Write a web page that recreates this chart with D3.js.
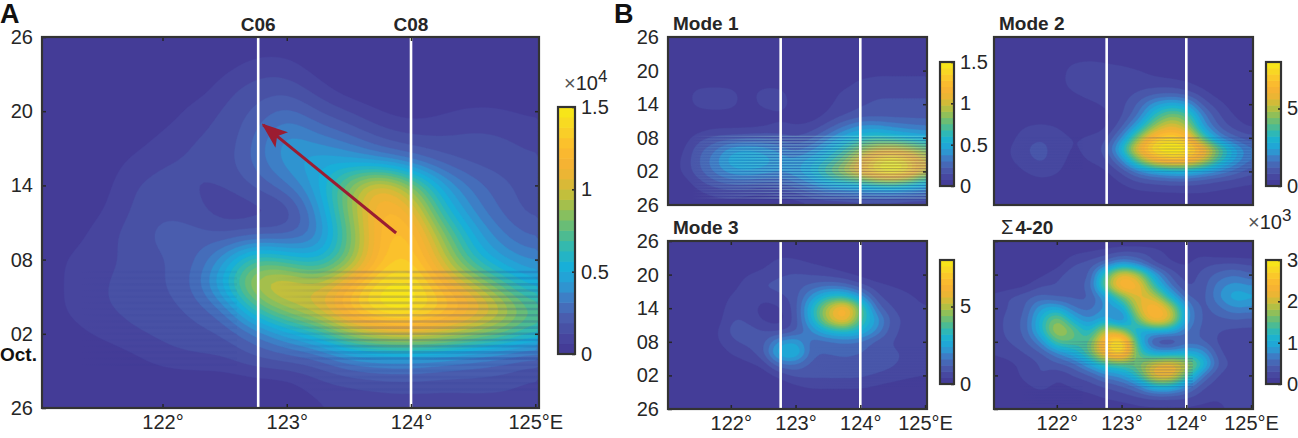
<!DOCTYPE html>
<html>
<head>
<meta charset="utf-8">
<style>
  body { margin: 0; background: #fff; }
  svg text { font-family: "Liberation Sans", Arial, sans-serif; fill: #262626; }
</style>
<script src="https://cdn.jsdelivr.net/npm/d3@7"></script>
</head>
<body>
<svg id="chart" width="1298" height="438"></svg>
<script>
// grid columns (deg E) and rows (days since 26 Sep, top row first)
var lons = [121,121.25,121.5,121.75,122,122.25,122.5,122.75,123,123.25,123.5,123.75,124,124.25,124.5,124.75,125];
var days = [30,28,26,24,22,20,18,16,14,12,10,8,6,4,2,0];

var xTicks = [122,123,124,125];
var xTickLabels = ["122°","123°","124°","125°E"];
var yTicks = [30,24,18,12,6,0];
var yTickLabels = ["26","20","14","08","02","26"];

var stationNames = ["C06","C08"];
var stationLons = [122.77,124];
var arrowLons = [123.88,122.81];
var arrowDays = [14.15,22.9];

// half-day oscillation seen in the lower part of the maps
var rippleDays = [1,1.5,2,2.5,3,3.5,4,4.5,5,5.5,6,6.5,7,7.5,8,8.5,9,9.5,10,10.5,11,11.5,12];

var gridA = [
  [0,0,0,0,0,0,0,0,0,0,0,0,0,0,0,0,0],
  [0,0,0,0,0,0,.02,.08,.08,.01,0,0,0,0,0,0,0],
  [0,0,0,0,0,0,.1,.15,.16,.08,0,0,0,0,0,0,0],
  [0,0,0,0,0,.1,.13,.2,.28,.18,.12,.05,.02,.05,.08,.07,.04],
  [0,0,0,0,.08,.13,.13,.26,.42,.32,.25,.16,.12,.12,.14,.13,.1],
  [0,0,0,.08,.13,.13,.15,.28,.42,.5,.45,.35,.28,.2,.16,.15,.13],
  [0,0,.02,.13,.14,.12,.12,.2,.3,.48,.85,1.15,.85,.45,.28,.2,.15],
  [0,0,.05,.13,.18,.15,.06,.08,.1,.38,.85,1.25,1.15,.6,.35,.22,.15],
  [0,.02,.1,.15,.22,.22,.18,.2,.2,.3,.75,1.25,1.3,.85,.48,.3,.22],
  [0,.08,.1,.14,.18,.22,.42,.75,.62,.5,.78,1.25,1.35,1,.6,.42,.35],
  [0,.08,.12,.15,.18,.25,.55,1,1.1,.95,1.2,1.45,1.5,1.2,.98,.7,.5],
  [0,.08,.12,.14,.16,.2,.3,.68,.9,1.05,1.3,1.52,1.52,1.35,1.18,.98,.72],
  [0,.03,.08,.12,.14,.16,.18,.3,.45,.6,.88,1,1.05,1,.88,.78,.62],
  [0,0,0,.04,.1,.12,.12,.18,.2,.22,.35,.4,.4,.35,.3,.25,.2],
  [0,0,0,0,0,0,0,.02,.02,.1,.12,.14,.15,.14,.15,.15,.1],
  [0,0,0,0,0,0,0,0,0,.05,.07,.08,.08,.08,.08,.08,.07]
];
var gridM1 = [
  [0,0,0,0,0,0,0,0,0,0,0,0,0,0,0,0,0],
  [0,0,0,0,0,0,0,0,0,0,0,0,0,0,0,0,0],
  [0,0,0,0,0,0,0,0,0,0,0,0,0,0,0,0,0],
  [0,0,0,0,0,0,0,0,0,0,0,0,0,.03,.03,.03,.03],
  [0,0,0,0,0,0,0,0,0,0,0,.03,.1,.12,.12,.12,.12],
  [0,0,.13,.15,.13,0,.14,.13,0,0,.03,.1,.12,.14,.14,.14,.14],
  [0,0,.12,.15,.13,0,.12,.13,.03,0,.06,.11,.14,.16,.16,.16,.16],
  [0,0,0,0,0,0,0,.06,.02,.03,.09,.14,.18,.19,.19,.19,.19],
  [0,0,.02,.05,.05,.05,.07,.1,.08,.1,.18,.3,.4,.4,.35,.32,.3],
  [0,.02,.12,.17,.18,.2,.2,.18,.15,.2,.35,.5,.6,.65,.6,.55,.5],
  [0,.05,.2,.28,.42,.45,.42,.35,.25,.35,.5,.65,.85,1,1.05,.95,.8],
  [0,.08,.22,.35,.5,.55,.5,.42,.4,.5,.62,.8,1.1,1.4,1.5,1.35,1],
  [0,.08,.2,.32,.42,.45,.42,.38,.42,.55,.75,.95,1.2,1.45,1.55,1.4,1],
  [0,.02,.12,.2,.25,.25,.22,.22,.3,.4,.55,.6,.65,.75,.8,.7,.55],
  [0,0,.05,.08,.1,.08,.05,.08,.12,.2,.25,.27,.3,.3,.3,.28,.25],
  [0,.03,.04,.05,.04,.03,.02,.02,.03,.06,.08,.08,.1,.1,.1,.08,.08]
];
var gridM2 = [
  [0,0,0,0,0,0,0,0,0,0,0,0,0,0,0,0,0],
  [0,0,0,0,0,0,0,0,0,0,0,0,0,0,0,0,0],
  [0,0,0,0,0,.25,.35,.3,.15,0,0,0,0,0,0,0,0],
  [0,0,0,0,0,.7,.7,.6,.6,.45,.25,.05,0,0,0,0,0],
  [0,0,0,0,0,.8,.8,.65,.65,.6,.55,.55,.4,.15,0,0,0],
  [0,0,0,0,0,.35,.65,.65,.6,.8,1,1.05,.9,.55,.15,0,0],
  [0,0,0,0,0,0,.25,.5,.65,1.2,2.2,2.7,2.4,1,.55,.15,0],
  [0,0,0,0,0,0,0,.25,.7,1.5,3.3,4.4,4,1.8,.8,.35,.1],
  [0,0,.4,.55,.4,0,.1,.3,1,2.5,4.6,5.8,5,2.3,1.1,.6,.3],
  [0,.15,.7,.8,.7,.35,.5,.6,1.8,4.4,6.8,7.4,6.8,3.8,1.9,1.2,.9],
  [0,.35,.8,.9,.7,.3,.55,.85,3,6.2,7.9,8.2,8,6.6,4.2,2.6,1.6],
  [0,.3,.7,.9,.65,.2,.45,.65,1.8,4.2,6.2,7,6.8,5.6,3.6,2.4,1.5],
  [0,.05,.4,.65,.5,.05,.1,.3,.8,1.7,2.3,2.6,2.7,2.3,1.9,1.4,.9],
  [0,0,.1,.25,.15,0,0,.1,.4,.7,.8,.9,.9,.8,.6,.5,.4],
  [0,0,0,0,0,0,0,0,.15,.25,.3,.3,.35,.35,.3,.25,.2],
  [0,0,0,0,0,0,0,0,0,0,0,0,0,.05,.05,.05,.05]
];
var gridM3 = [
  [0,0,0,0,0,0,0,0,0,0,0,0,0,0,0,0,0],
  [0,0,0,0,0,0,0,.25,.2,0,0,0,0,0,0,0,0],
  [0,0,0,0,0,0,.25,.6,.55,.4,.25,.1,0,0,0,0,0],
  [0,0,0,0,0,.4,.55,.75,.85,.75,.65,.45,.25,.05,0,0,0],
  [0,0,0,0,.15,.65,.85,.95,1,1.3,1.5,1.4,.9,.55,.4,.3,.2],
  [0,0,0,0,.45,.75,.5,.7,.95,2.2,3.3,3.3,2.3,.85,.55,.45,.3],
  [0,0,0,0,.65,.7,.15,.3,.9,3,5.2,6.9,4.2,1.4,.75,.55,.4],
  [0,0,0,0,.85,.75,.3,.1,.9,2.8,5.2,6.6,3.8,2.3,.95,.65,.5],
  [0,0,0,.25,.95,1,.8,.6,1,2,3,3.3,3,2,.85,.65,.5],
  [0,0,0,.25,.75,.9,1,2.2,2.5,1.3,1.4,1.6,1.5,1,.75,.65,.5],
  [0,0,0,0,.45,.65,1,3,3.2,1.2,1.2,1.2,1.2,1,.85,.75,.6],
  [0,0,0,0,.1,.3,.5,1.5,1.6,1,1.1,1.2,1.1,1,.85,.7,.6],
  [0,0,0,0,0,0,.1,.5,.9,.9,.9,.9,.9,.75,.65,.5,.4],
  [0,0,0,0,0,0,0,.05,.3,.5,.5,.5,.5,.35,.2,.1,.1],
  [0,0,0,0,0,0,0,0,0,0,0,0,0,0,.1,.1,.1],
  [0,0,0,0,0,0,0,0,0,0,0,0,0,0,.1,.1,.1]
];
var gridM4 = [
  [0,0,0,0,0,0,0,0,0,0,0,0,0,0,0,0,0],
  [0,0,0,0,0,.1,.15,.2,.3,.3,.25,.1,.1,.1,0,0,0],
  [0,0,0,0,.05,.3,.35,.5,.8,.6,.25,.15,.1,.25,.3,.3,.25],
  [0,0,0,.1,.25,.4,.35,1.4,2.3,1.9,.9,.4,.2,.35,.5,.6,.45],
  [0,.05,.1,.3,.3,.45,.4,1.6,2.6,2.4,1.3,.6,.25,.35,.7,.85,.75],
  [.2,.3,.4,.5,.4,.4,.4,.8,1.5,2.2,2,1.1,.45,.35,.75,1.05,.95],
  [.2,.3,.4,.9,1,.6,.5,.8,.85,2,2.6,2,.8,.35,.55,.75,.7],
  [.2,.35,.45,1.1,1.8,1,.7,1,.45,1.6,2.5,2.2,.8,.4,.4,.45,.4],
  [.2,.35,.45,1.1,2,1.6,1,2,1.7,.9,1,1,.6,.4,.3,.25,.25],
  [.2,.3,.4,.7,1.5,1.5,1.4,2.6,3.2,1.2,.25,.15,.5,.45,.25,.2,.2],
  [.15,.2,.3,.4,.7,1,1.5,2.5,3,1.4,.9,.9,1,.9,.3,.2,.2],
  [.1,.1,.2,.3,.4,.5,.9,1.3,1.4,1.6,2.1,2.3,2,1.25,.4,.25,.2],
  [0,.05,.2,.35,.15,.3,.4,.7,.8,1.3,2.3,2.4,1.5,.6,.25,.2,.2],
  [0,0,.1,.2,.1,.15,.2,.3,.4,.6,1.1,1.1,.7,.3,.2,.2,.2],
  [0,0,.02,.1,.05,.1,.1,.15,.2,.25,.3,.3,.3,.2,.15,.25,.25],
  [0,0,0,.02,0,0,0,.05,.05,.1,.1,.1,.1,.1,.1,.2,.2]
];

var colorStops = ["#433894","#47479f","#4a5cad","#4277c2","#2a9bd4","#17b0d8","#2fb8b4","#5abc82","#8dbf5a","#c0bf3c","#e8b634","#f9b233","#fbc22c","#f8d824","#f6eb14"];
var color = d3.scaleLinear()
  .domain(d3.range(colorStops.length).map(function(i){ return i/(colorStops.length-1); }))
  .range(colorStops);

var svg = d3.select("#chart");
var defs = svg.append("defs");

// resample the read-off grid for rendering so the contours are not faceted
function refine(grid, k, r) {
  var rows = grid.length, cols = grid[0].length;
  var w = (cols-1)*k+1, h = (rows-1)*k+1;
  var out = new Float64Array(w*h);
  for (var j=0;j<h;j++) {
    var gy = j/k, y0 = Math.min(Math.floor(gy),rows-2), fy = gy-y0;
    for (var i=0;i<w;i++) {
      var gx = i/k, x0 = Math.min(Math.floor(gx),cols-2), fx = gx-x0;
      out[j*w+i] = (grid[y0][x0]*(1-fx)+grid[y0][x0+1]*fx)*(1-fy)+(grid[y0+1][x0]*(1-fx)+grid[y0+1][x0+1]*fx)*fy;
    }
  }
  d3.blur2({data:out,width:w,height:h}, r);
  return {data:out,width:w,height:h,k:k};
}

function drawPanel(p) {
  var g = svg.append("g");
  var x = d3.scaleLinear().domain([121.03,125.03]).range([p.left,p.right]);
  var y = d3.scaleLinear().domain([0,30]).range([p.bottom,p.top]);
  var id = "clip"+p.name;
  defs.append("clipPath").attr("id",id).append("rect")
    .attr("x",p.left).attr("y",p.top).attr("width",p.right-p.left).attr("height",p.bottom-p.top);

  var step = p.max/p.levels;
  var levels = d3.range(0,p.levels).map(function(i){ return step*i; });
  var fine = refine(p.grid,6,p.blur);
  var lonStep = lons[1]-lons[0], dayStep = days[1]-days[0];
  var path = d3.geoPath(d3.geoTransform({point:function(a,b){
    this.stream.point(x(lons[0]+(a-0.5)/fine.k*lonStep), y(days[0]+(b-0.5)/fine.k*dayStep));
  }}));
  function bandColor(v){ return color(Math.min(1,(v+step/2)/p.max)); }
  var map = g.append("g").attr("clip-path","url(#"+id+")");
  map.append("rect").attr("x",p.left).attr("y",p.top)
    .attr("width",p.right-p.left).attr("height",p.bottom-p.top).attr("fill",bandColor(0));
  var contours = d3.contours().size([fine.width,fine.height]).thresholds(levels.slice(1))(Array.from(fine.data));
  map.selectAll("path").data(contours).enter().append("path")
    .attr("d",path)
    .attr("fill",function(d){ return bandColor(d.value); })
    .attr("stroke",function(d){ return bandColor(d.value); })
    .attr("stroke-width",0.4);

  // ripple bands: [lonFrom, lonTo, dayFrom, dayTo, strength, color, dayShift]
  p.ripples.forEach(function(b,n){
    var shade = b[5]||"#23308f", gid = "rip"+p.name+n;
    var lg = defs.append("linearGradient").attr("id",gid).attr("gradientUnits","userSpaceOnUse")
      .attr("x1",x(b[0])).attr("x2",x(b[1])).attr("y1",0).attr("y2",0);
    lg.append("stop").attr("offset",0).attr("stop-color",shade).attr("stop-opacity",0);
    lg.append("stop").attr("offset",0.35).attr("stop-color",shade).attr("stop-opacity",b[4]);
    lg.append("stop").attr("offset",1).attr("stop-color",shade).attr("stop-opacity",b[4]);
    map.selectAll(null).data(rippleDays.filter(function(d){ return d>=b[2] && d<=b[3]; }))
      .enter().append("line")
      .attr("x1",x(b[0])).attr("x2",x(b[1]))
      .attr("y1",function(d){ return y(d+(b[6]||0)); }).attr("y2",function(d){ return y(d+(b[6]||0)); })
      .attr("stroke","url(#"+gid+")").attr("stroke-width",p.rippleWidth);
  });

  // station lines
  map.selectAll("line.st").data(stationLons).enter().append("line").attr("class","st")
    .attr("x1",function(d){ return x(d); }).attr("x2",function(d){ return x(d); })
    .attr("y1",p.top).attr("y2",p.bottom)
    .attr("stroke","#fff").attr("stroke-width",2.6);

  // axes
  var tickLen = -4;
  function styleAxis(a) {
    a.select(".domain").remove();
    a.selectAll("line").attr("stroke","#262626").attr("stroke-width",1.5);
    a.selectAll("text").attr("font-size",20).style("fill","#262626");
  }
  var left = d3.axisLeft(y).tickValues(yTicks).tickSize(p.showYTicks?tickLen:0).tickPadding(p.yPad)
    .tickFormat(function(d,i){ return p.showYLabels?yTickLabels[i]:""; });
  g.append("g").attr("transform","translate("+p.left+",0)").call(left).call(styleAxis);
  var right = d3.axisRight(y).tickValues(yTicks.slice(1,5)).tickSize(tickLen).tickFormat("");
  g.append("g").attr("transform","translate("+p.right+",0)").call(right).call(styleAxis);
  if (p.showXTicks) {
    var top = d3.axisTop(x).tickValues(xTicks.slice(0,3)).tickSize(tickLen).tickFormat("");
    g.append("g").attr("transform","translate(0,"+p.top+")").call(top).call(styleAxis);
  }
  var bottom = d3.axisBottom(x).tickValues(xTicks).tickSize(p.showXTicks?tickLen:0).tickPadding(p.xPad)
    .tickFormat(function(d,i){ return p.showXLabels?xTickLabels[i]:""; });
  g.append("g").attr("transform","translate(0,"+p.bottom+")").call(bottom).call(styleAxis);

  g.append("rect").attr("x",p.left).attr("y",p.top)
    .attr("width",p.right-p.left).attr("height",p.bottom-p.top)
    .attr("fill","none").attr("stroke","#333").attr("stroke-width",2.2);

  if (p.title) {
    var t = g.append("text").attr("x",p.left+p.titleDx).attr("y",p.top-7)
      .attr("font-size",19).attr("font-weight","bold");
    if (p.sigma) {
      t.append("tspan").attr("font-weight","normal").attr("font-size",20).text("Σ");
      t.append("tspan").attr("dx",2).text(p.title);
    } else t.text(p.title);
  }

  // colorbar
  var cb = p.cb;
  var cy = d3.scaleLinear().domain([0,cb.max]).range([cb.bottom,cb.top]);
  g.selectAll("rect.cb").data(levels).enter().append("rect").attr("class","cb")
    .attr("x",cb.left).attr("width",cb.right-cb.left)
    .attr("y",function(d){ return cy(d+step)-0.3; })
    .attr("height",function(d){ return cy(d)-cy(d+step)+0.6; })
    .attr("fill",bandColor);
  var cAxis = d3.axisRight(cy).tickValues(cb.ticks).tickSize(-3).tickPadding(6)
    .tickFormat(function(d,i){ return cb.labels[i]; });
  g.append("g").attr("transform","translate("+cb.right+",0)").call(cAxis).call(styleAxis);
  g.append("rect").attr("x",cb.left).attr("y",cb.top)
    .attr("width",cb.right-cb.left).attr("height",cb.bottom-cb.top)
    .attr("fill","none").attr("stroke","#333").attr("stroke-width",2.2);
  if (cb.exp) {
    var e = g.append("text").attr("x",cb.expX).attr("y",cb.expY).attr("font-size",20);
    e.append("tspan").attr("fill","#555").text("×");
    e.append("tspan").text("10");
    e.append("tspan").attr("dy",-8).attr("font-size",17).text(cb.exp);
  }
  return {x:x,y:y,g:g};
}

var panelA = drawPanel({
  name:"A", grid:gridA, max:1.5, levels:24, blur:2,
  left:42, right:539, top:37, bottom:408,
  showYTicks:true, showYLabels:true, showXTicks:true, showXLabels:true, yPad:9, xPad:7,
  rippleWidth:2.6,
  ripples:[[122.9,125.03,4,11,.2],[121.3,122.6,3.5,11,.07],[123,125.03,1.5,4,.1]],
  cb:{left:558,right:575,top:107,bottom:354,max:1.5,ticks:[0,.5,1,1.5],labels:["0","0.5","1","1.5"],exp:"4",expX:564,expY:90}
});
drawPanel({
  name:"M1", grid:gridM1, max:1.5, levels:20, blur:1.5,
  left:668, right:927, top:37, bottom:205, title:"Mode 1", titleDx:5,
  showYTicks:false, showYLabels:true, showXTicks:false, showXLabels:false, yPad:9, xPad:7,
  rippleWidth:1.3,
  ripples:[[121.4,125.03,1,12,.32],[121.4,125.03,1,12,.28,"#a8f0e0",.25]],
  cb:{left:940,right:954,top:62,bottom:186,max:1.5,ticks:[0,.5,1,1.5],labels:["0","0.5","1","1.5"]}
});
drawPanel({
  name:"M2", grid:gridM2, max:8, levels:20, blur:1.5,
  left:994, right:1253, top:37, bottom:205, title:"Mode 2", titleDx:5,
  showYTicks:false, showYLabels:false, showXTicks:false, showXLabels:false, yPad:9, xPad:7,
  rippleWidth:1.3,
  ripples:[[123,125,6,12,.2],[123.2,124.2,12,17,.18],[121.2,122.4,6.5,12,.06]],
  cb:{left:1266,right:1281,top:62,bottom:186,max:8,ticks:[0,5],labels:["0","5"]}
});
drawPanel({
  name:"M3", grid:gridM3, max:8, levels:20, blur:1.5,
  left:668, right:927, top:241, bottom:409, title:"Mode 3", titleDx:5,
  showYTicks:true, showYLabels:true, showXTicks:true, showXLabels:true, yPad:9, xPad:7,
  rippleWidth:1.3,
  ripples:[[123.2,125.03,4,11,.05]],
  cb:{left:940,right:954,top:260,bottom:384,max:8,ticks:[0,5],labels:["0","5"]}
});
drawPanel({
  name:"M4", grid:gridM4, max:3, levels:20, blur:1.5,
  left:994, right:1253, top:241, bottom:409, title:"4-20", titleDx:7, sigma:true,
  showYTicks:true, showYLabels:false, showXTicks:true, showXLabels:true, yPad:9, xPad:7,
  rippleWidth:1.3,
  ripples:[[123,124.1,4,9,.22],[122,123.2,8,12,.18],[121.4,122.4,1,4,.08]],
  cb:{left:1266,right:1281,top:260,bottom:384,max:3,ticks:[0,1,2,3],labels:["0","1","2","3"],exp:"3",expX:1248,expY:229}
});

// arrow along the crest, panel A
var ax = panelA.x, ay = panelA.y;
defs.append("marker").attr("id","head").attr("viewBox","0 0 26 20").attr("refX",24).attr("refY",10)
  .attr("markerWidth",26).attr("markerHeight",20).attr("markerUnits","userSpaceOnUse").attr("orient","auto")
  .append("path").attr("d","M0,0L26,10L0,20L6,10Z").attr("fill","#9b1c31");
panelA.g.append("line")
  .attr("x1",ax(arrowLons[0])).attr("y1",ay(arrowDays[0]))
  .attr("x2",ax(arrowLons[1])).attr("y2",ay(arrowDays[1]))
  .attr("stroke","#9b1c31").attr("stroke-width",3).attr("marker-end","url(#head)");

// station names and panel letters
panelA.g.selectAll("text.station").data(stationNames).enter().append("text").attr("class","station")
  .attr("x",function(d,i){ return ax(stationLons[i]); }).attr("y",31)
  .attr("text-anchor","middle").attr("font-size",19).attr("font-weight","bold").text(function(d){ return d; });
svg.append("text").attr("x",0).attr("y",23).attr("font-size",27).attr("font-weight","bold").style("fill","#111").text("A");
svg.append("text").attr("x",614).attr("y",23).attr("font-size",27).attr("font-weight","bold").style("fill","#111").text("B");
svg.append("text").attr("x",0).attr("y",361).attr("font-size",19).attr("font-weight","bold").style("fill","#111").text("Oct.");
</script>
</body>
</html>
